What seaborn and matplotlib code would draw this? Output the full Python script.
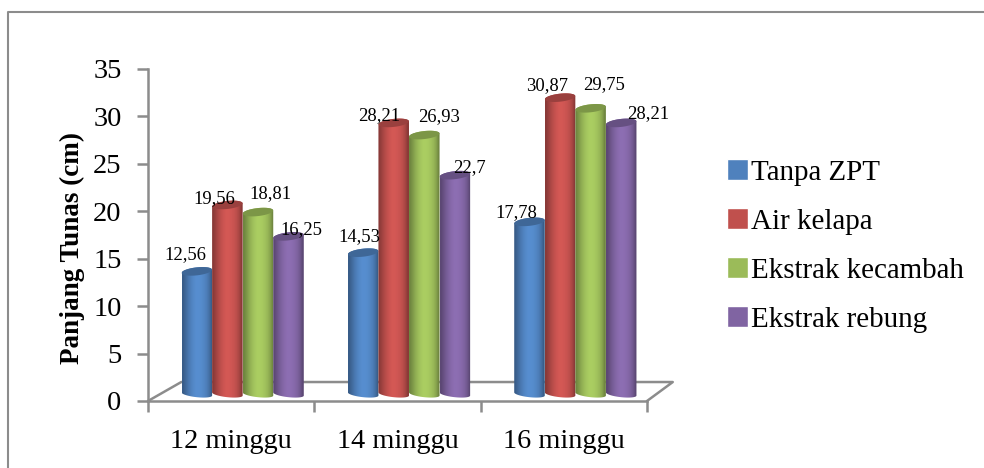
import numpy as np
import pandas as pd
import matplotlib
matplotlib.use('Agg')
import matplotlib.pyplot as plt
from matplotlib.patches import PathPatch
from matplotlib.path import Path
from matplotlib.colors import to_rgb
from matplotlib.lines import Line2D
import seaborn as sns

categories = ['12 minggu', '14 minggu', '16 minggu']
treatments = ['Tanpa ZPT', 'Air kelapa', 'Ekstrak kecambah', 'Ekstrak rebung']
tanpa_zpt = [12.56, 14.53, 17.78]
air_kelapa = [19.56, 28.21, 30.87]
ekstrak_kecambah = [18.81, 26.93, 29.75]
ekstrak_rebung = [16.25, 22.7, 28.21]
value_labels = [['12,56', '14,53', '17,78'],
                ['19,56', '28,21', '30,87'],
                ['18,81', '26,93', '29,75'],
                ['16,25', '22,7', '28,21']]
colors = ['#4F81BD', '#C0504D', '#9BBB59', '#8064A2']

# label offsets from the bar top, in pixels (same order as value_labels)
label_dx = [[-12, -4, -14], [-14, -15, -13], [12, 14, 13], [12, 14, 27]]
label_dy = [[27, 27, 20], [17, 18, 23], [29, 29, 34], [17, 18, 20]]

W, H = 984, 468
GREY = '#8C8C8C'
SERIF = 'Liberation Serif'

sns.set_theme(style='white')
plt.rcParams['font.family'] = SERIF

df = pd.DataFrame({
    'minggu': categories * 4,
    'perlakuan': np.repeat(treatments, 3),
    'panjang': tanpa_zpt + air_kelapa + ekstrak_kecambah + ekstrak_rebung,
})

fig = plt.figure(figsize=(W / 100, H / 100), dpi=100)
ax = fig.add_axes([148 / W, 1 - 401 / H, 499 / W, 332 / H])

sns.barplot(data=df, x='minggu', y='panjang', hue='perlakuan', order=categories,
            hue_order=treatments, palette=colors, width=0.735, gap=0, saturation=1,
            errorbar=None, ax=ax, zorder=3)

ax.set_xlim(-0.5, 2.5)
ax.set_ylim(0, 35)
ax.set_yticks(range(0, 40, 5))
ax.set_xlabel('')
ax.set_ylabel('Panjang Tunas (cm)', fontsize=19.5, fontweight='bold', labelpad=6, color='black', y=0.46)
ax.set_xticks([-0.5, 0.5, 1.5, 2.5], minor=False)
ax.set_xticklabels([])
ax.tick_params(axis='y', direction='out', length=8, width=1.8, color=GREY, labelsize=20.5,
               labelcolor='black', pad=11, left=True)
ax.tick_params(axis='x', direction='out', length=8, width=1.8, color=GREY, bottom=True)
for i, cat in enumerate(categories):
    ax.text(i, -0.085, cat, transform=ax.get_xaxis_transform(), ha='center', va='top',
            fontsize=20.3, color='black')
for side in ['top', 'right']:
    ax.spines[side].set_visible(False)
for side in ['left', 'bottom']:
    ax.spines[side].set_color(GREY)
    ax.spines[side].set_linewidth(1.8)

# floor of the 3d box
ax.plot([-0.5, -0.3, 2.655, 2.5], [0, 2, 2, 0], color=GREY, lw=1.8, clip_on=False, zorder=1)

px_x = 499 / 3
px_y = 332 / 35
shift_x = 11.5 / px_x
shift_y = 7 / px_y
lift = 3.5 / px_y

legend_handles = ax.get_legend().legend_handles
ax.get_legend().remove()

ramp = np.array([0.72, 0.82, 0.92, 1.0, 1.06, 1.1, 1.1, 1.08, 1.04, 0.98, 0.88, 0.72])
for s, container in enumerate(ax.containers):
    rgb = np.array(to_rgb(colors[s]))
    img = np.clip(rgb[None, None, :] * ramp[None, :, None], 0, 1)
    for c, bar in enumerate(container):
        bar.set_visible(False)
        x0 = bar.get_x() + shift_x
        x1 = x0 + bar.get_width()
        xm = (x0 + x1) / 2
        top = bar.get_height() + shift_y + lift
        base = shift_y
        a = (x1 - x0) / 2
        by = 3.2 / px_y
        ty = 4 / px_y
        tilt = 1.6 / px_y
        z = 4 + s * 0.1 + 0.01 * c
        # body: straight sides, rounded lower edge
        t = np.linspace(np.pi, 2 * np.pi, 30)
        low = np.column_stack([xm + a * np.cos(t), base + by * np.sin(t) - tilt * np.cos(t)])
        t2 = np.linspace(0, np.pi, 30)
        up = np.column_stack([xm + a * np.cos(t2), top + ty * np.sin(t2) + tilt * np.cos(t2)])
        verts = np.vstack([low, up, low[:1]])
        clip = PathPatch(Path(verts), transform=ax.transData, fc='none', ec='none')
        ax.add_patch(clip)
        im = ax.imshow(img, extent=(x0, x1, base - 2, top + 2), aspect='auto',
                       interpolation='bilinear', zorder=z, origin='lower')
        im.set_clip_path(clip)
        # darker cap
        cap_t = np.linspace(0, 2 * np.pi, 60)
        cap = np.column_stack([xm + a * 0.99 * np.cos(cap_t),
                               top + ty * np.sin(cap_t) + tilt * np.cos(cap_t)])
        ax.add_patch(plt.Polygon(cap, closed=True, fc=rgb * 0.8, ec='none', zorder=z + 0.001))
        # value label
        ax.annotate(value_labels[s][c], (bar.get_x() + bar.get_width() / 2, bar.get_height()),
                    xytext=(label_dx[s][c] + 12, label_dy[s][c]), textcoords='offset pixels',
                    ha='center', va='center', fontsize=13.4, color='black', zorder=10,
                    annotation_clip=False)

ax.set_xlim(-0.5, 2.5)
ax.set_ylim(0, 35)

# legend
fig.legend(legend_handles, treatments, loc='center left', bbox_to_anchor=(727 / W, 1 - 246 / H),
           frameon=False, fontsize=20.9, handlelength=0.72, handleheight=0.72,
           handletextpad=0.1, labelspacing=0.77, labelcolor='black', borderpad=0, borderaxespad=0)

# outer chart border
fig.add_artist(Line2D([8 / W, 8 / W, 1], [0, 1 - 12 / H, 1 - 12 / H], color=GREY, lw=1.5))

fig.savefig('out.png', dpi=100)
